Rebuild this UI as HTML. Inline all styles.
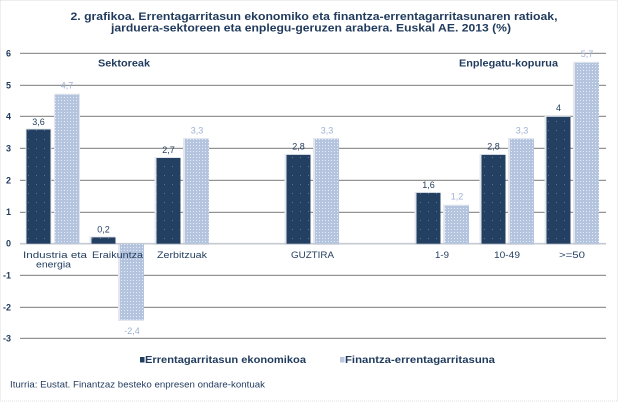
<!DOCTYPE html>
<html>
<head>
<meta charset="utf-8">
<style>
html,body{margin:0;padding:0;background:#fff;}
svg{display:block;}
text{font-family:"Liberation Sans",Arial,sans-serif;}
</style>
</head>
<body>
<svg width="619" height="403" viewBox="0 0 619 403" xmlns="http://www.w3.org/2000/svg">
<defs>
<pattern id="lp" width="3" height="3" patternUnits="userSpaceOnUse">
<rect width="3" height="3" fill="#B4C4DF"/>
<rect x="1" y="1" width="1" height="1" fill="#E6ECF6"/>
</pattern>
<pattern id="dp" width="8" height="9" patternUnits="userSpaceOnUse">
<rect width="8" height="9" fill="#233F61"/>
<rect x="4" y="4" width="1" height="1" fill="#5F738E"/>
</pattern>
</defs>
<rect x="0" y="0" width="619" height="403" fill="#fff"/>
<rect x="0.5" y="0.5" width="617" height="400.5" fill="none" stroke="#DCDCDC" stroke-width="1" stroke-dasharray="1,1"/>

<!-- title -->
<text x="314" y="20" text-anchor="middle" font-size="11" font-weight="bold" fill="#1F3A5C" textLength="487" lengthAdjust="spacingAndGlyphs">2. grafikoa. Errentagarritasun ekonomiko eta finantza-errentagarritasunaren ratioak,</text>
<text x="311" y="31.5" text-anchor="middle" font-size="11" font-weight="bold" fill="#1F3A5C" textLength="400" lengthAdjust="spacingAndGlyphs">jarduera-sektoreen eta enplegu-geruzen arabera. Euskal AE. 2013 (%)</text>

<!-- gridlines -->
<g shape-rendering="crispEdges">
<g stroke="#E6E6E6">
<line x1="20" x2="606" y1="52.5" y2="52.5"/>
<line x1="20" x2="606" y1="84.5" y2="84.5"/>
<line x1="20" x2="606" y1="115.5" y2="115.5"/>
<line x1="20" x2="606" y1="147.5" y2="147.5"/>
<line x1="20" x2="606" y1="179.5" y2="179.5"/>
<line x1="20" x2="606" y1="211.5" y2="211.5"/>
<line x1="20" x2="606" y1="274.5" y2="274.5"/>
<line x1="20" x2="606" y1="306.5" y2="306.5"/>
<line x1="20" x2="606" y1="337.5" y2="337.5"/>
</g>
<g stroke="#939393">
<line x1="20" x2="606" y1="53.5" y2="53.5"/>
<line x1="20" x2="606" y1="85.5" y2="85.5"/>
<line x1="20" x2="606" y1="116.5" y2="116.5"/>
<line x1="20" x2="606" y1="148.5" y2="148.5"/>
<line x1="20" x2="606" y1="180.5" y2="180.5"/>
<line x1="20" x2="606" y1="212.5" y2="212.5"/>
<line x1="20" x2="606" y1="275.5" y2="275.5"/>
<line x1="20" x2="606" y1="307.5" y2="307.5"/>
<line x1="20" x2="606" y1="338.5" y2="338.5"/>
</g>
</g>

<!-- y tick labels -->
<g font-size="9" font-weight="bold" fill="#1F3A5C" text-anchor="end">
<text x="11" y="56.5">6</text>
<text x="11" y="88.5">5</text>
<text x="11" y="119.5">4</text>
<text x="11" y="151.5">3</text>
<text x="11" y="183.5">2</text>
<text x="11" y="215">1</text>
<text x="11" y="246.5">0</text>
<text x="11" y="278.5">-1</text>
<text x="11" y="310.5">-2</text>
<text x="11" y="341.5">-3</text>
</g>

<!-- bar glows -->
<g fill="#E4E8EE">
<rect x="25.5" y="128.5" width="26" height="116"/>
<rect x="54" y="93.6" width="26" height="151"/>
<rect x="89.5" y="236.4" width="26" height="8"/>
<rect x="118" y="243" width="26" height="78"/>
<rect x="154.5" y="157" width="26" height="88"/>
<rect x="183" y="138" width="26" height="107"/>
<rect x="284.5" y="153.9" width="26" height="91"/>
<rect x="313" y="138" width="26" height="107"/>
<rect x="414.5" y="191.9" width="26" height="53"/>
<rect x="443" y="204.6" width="26" height="40"/>
<rect x="479.5" y="153.9" width="26" height="91"/>
<rect x="508" y="138" width="26" height="107"/>
<rect x="544.5" y="115.8" width="26" height="129"/>
<rect x="573" y="61.8" width="26" height="183"/>
</g>

<!-- zero line -->
<line x1="20" x2="606" y1="243.7" y2="243.7" stroke="#C4CAD2" stroke-width="1.6"/>

<!-- dark bars -->
<g fill="url(#dp)">
<rect x="26.5" y="129.5" width="24" height="114.2"/>
<rect x="91.5" y="237.4" width="24" height="6.3"/>
<rect x="156.5" y="158" width="24" height="85.7"/>
<rect x="286.5" y="154.9" width="24" height="88.8"/>
<rect x="416.5" y="192.9" width="24" height="50.8"/>
<rect x="481.5" y="154.9" width="24" height="88.8"/>
<rect x="546.5" y="116.8" width="24" height="126.9"/>
</g>
<!-- light bars -->
<g fill="url(#lp)">
<rect x="55" y="94.6" width="24" height="149.1"/>
<rect x="120" y="244.2" width="24" height="75.7"/>
<rect x="185" y="139" width="24" height="104.7"/>
<rect x="315" y="139" width="24" height="104.7"/>
<rect x="445" y="205.6" width="24" height="38.1"/>
<rect x="510" y="139" width="24" height="104.7"/>
<rect x="575" y="62.8" width="24" height="180.9"/>
</g>

<!-- data labels dark -->
<g font-size="9" fill="#1F3A5C" text-anchor="middle">
<text x="38.5" y="125">3,6</text>
<text x="103.5" y="232.5">0,2</text>
<text x="168.5" y="153">2,7</text>
<text x="298.5" y="149.5">2,8</text>
<text x="428.5" y="188">1,6</text>
<text x="493.5" y="149.5">2,8</text>
<text x="558.5" y="111">4</text>
</g>
<!-- data labels light -->
<g font-size="9" fill="#9CB1D4" text-anchor="middle">
<text x="67" y="88.5">4,7</text>
<text x="132" y="334">-2,4</text>
<text x="197" y="133.5">3,3</text>
<text x="327" y="133.5">3,3</text>
<text x="457" y="199.5">1,2</text>
<text x="522" y="133.5">3,3</text>
<text x="587" y="57">5,7</text>
</g>

<!-- group titles -->
<text x="98" y="66.5" font-size="10" font-weight="bold" fill="#1F3A5C" textLength="52" lengthAdjust="spacingAndGlyphs">Sektoreak</text>
<text x="459" y="66.5" font-size="10" font-weight="bold" fill="#1F3A5C" textLength="99" lengthAdjust="spacingAndGlyphs">Enplegatu-kopurua</text>

<!-- category labels -->
<g font-size="9" fill="#243F60">
<text x="23" y="258" textLength="64" lengthAdjust="spacingAndGlyphs">Industria eta</text>
<text x="36" y="267.5" textLength="35" lengthAdjust="spacingAndGlyphs">energia</text>
<text x="92" y="258" textLength="51" lengthAdjust="spacingAndGlyphs">Eraikuntza</text>
<text x="157" y="258" textLength="50" lengthAdjust="spacingAndGlyphs">Zerbitzuak</text>
<text x="291" y="258" textLength="43" lengthAdjust="spacingAndGlyphs">GUZTIRA</text>
<text x="435" y="258" textLength="14" lengthAdjust="spacingAndGlyphs">1-9</text>
<text x="494" y="258" textLength="26" lengthAdjust="spacingAndGlyphs">10-49</text>
<text x="559" y="258" textLength="26" lengthAdjust="spacingAndGlyphs">&gt;=50</text>
</g>

<!-- legend -->
<rect x="140" y="357" width="4.5" height="5.5" fill="#223E60"/>
<text x="145" y="363" font-size="10" font-weight="bold" fill="#1F3A5C" textLength="161" lengthAdjust="spacingAndGlyphs">Errentagarritasun ekonomikoa</text>
<rect x="340" y="357" width="4.5" height="5.5" fill="#B8C7E1"/>
<text x="345" y="363" font-size="10" font-weight="bold" fill="#1F3A5C" textLength="150" lengthAdjust="spacingAndGlyphs">Finantza-errentagarritasuna</text>

<!-- source -->
<text x="10" y="387.5" font-size="9" fill="#1F3A5C" textLength="255" lengthAdjust="spacingAndGlyphs">Iturria: Eustat. Finantzaz besteko enpresen ondare-kontuak</text>
</svg>
</body>
</html>
